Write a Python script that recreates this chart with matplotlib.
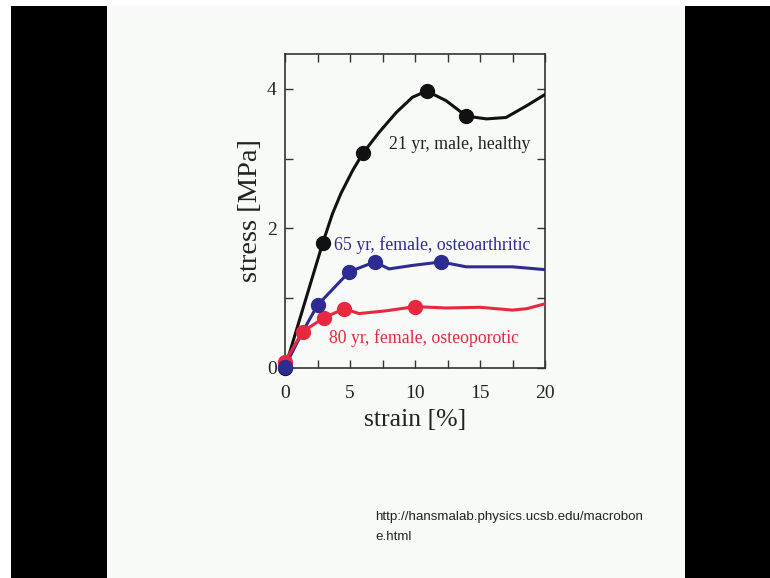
import matplotlib as mpl
mpl.use('Agg')
import matplotlib.pyplot as plt
from matplotlib.patches import Rectangle
from matplotlib.ticker import MultipleLocator

# strain [%] / stress [MPa]
healthy_x = [0, 2.9, 3.65, 4.3, 5.2, 6.0, 7.25, 8.55, 9.8, 10.9, 12.4, 13.95, 15.5, 17.0, 18.6, 20]
healthy_y = [0, 1.79, 2.21, 2.5, 2.83, 3.08, 3.38, 3.66, 3.88, 3.97, 3.83, 3.61, 3.57, 3.59, 3.76, 3.92]
healthy_mx = [0, 2.9, 6.0, 10.9, 13.95]
healthy_my = [0, 1.79, 3.08, 3.97, 3.61]

arthritic_x = [0, 1.3, 2.5, 4.95, 6.9, 8.0, 9.8, 12.0, 13.95, 17.5, 20]
arthritic_y = [0.02, 0.5, 0.9, 1.38, 1.52, 1.42, 1.47, 1.52, 1.45, 1.45, 1.41]
arthritic_mx = [0, 2.5, 4.95, 6.9, 12.0]
arthritic_my = [0.02, 0.9, 1.38, 1.52, 1.52]

porotic_x = [0, 1.35, 3.0, 4.55, 5.7, 7.8, 10.0, 12.4, 15.0, 17.5, 18.6, 20]
porotic_y = [0.09, 0.52, 0.72, 0.85, 0.78, 0.82, 0.88, 0.86, 0.87, 0.83, 0.85, 0.92]
porotic_mx = [0, 1.35, 3.0, 4.55, 10.0]
porotic_my = [0.09, 0.52, 0.72, 0.85, 0.88]

black = '#111111'
blue = '#2e2b93'
red = '#e8283e'
ink = '#222222'

fig = plt.figure(figsize=(7.7, 5.78), dpi=100)
fig.patch.set_facecolor('white')
W, H = 770.0, 578.0
# slide background and black side bars
for x0, x1, c in [(107, 685, '#f8faf8'), (11, 107, 'black'), (685, W, 'black')]:
    fig.patches.append(Rectangle((x0/W, 0), (x1-x0)/W, (H-6)/H, transform=fig.transFigure,
                                 facecolor=c, edgecolor='none', zorder=-10))

ax = fig.add_axes([285/W, 1-368/H, 260/W, 314/H])
ax.set_facecolor('#f8faf8')
serif = 'Liberation Serif'

ax.plot(healthy_x, healthy_y, color=black, lw=2.2, zorder=3)
ax.plot(healthy_mx, healthy_my, 'o', color=black, ms=10, zorder=4, clip_on=False)
ax.plot(arthritic_x, arthritic_y, color=blue, lw=2.2, zorder=3)
ax.plot(arthritic_mx, arthritic_my, 'o', color=blue, ms=10, zorder=5, clip_on=False)
ax.plot(porotic_x, porotic_y, color=red, lw=2.2, zorder=3)
ax.plot(porotic_mx, porotic_my, 'o', color=red, ms=10, zorder=4, clip_on=False)

ax.text(13.4, 3.21, '21 yr, male, healthy', color=ink, fontsize=12.8,
        family=serif, ha='center', va='center')
ax.text(11.3, 1.76, '65 yr, female, osteoarthritic', color=blue, fontsize=12.8,
        family=serif, ha='center', va='center')
ax.text(10.7, 0.43, '80 yr, female, osteoporotic', color=red, fontsize=12.8,
        family=serif, ha='center', va='center')

ax.set_xlim(0, 20)
ax.set_ylim(0, 4.5)
ax.xaxis.set_major_locator(MultipleLocator(5))
ax.xaxis.set_minor_locator(MultipleLocator(2.5))
ax.yaxis.set_major_locator(MultipleLocator(2))
ax.yaxis.set_minor_locator(MultipleLocator(1))
ax.tick_params(which='both', direction='in', top=True, right=True, length=6,
               width=1, color='#333333', labelsize=14)
ax.tick_params(axis='x', which='major', pad=12)
ax.tick_params(axis='y', which='major', pad=6)
for lab in ax.get_xticklabels() + ax.get_yticklabels():
    lab.set_family(serif)
    lab.set_color(ink)
for s in ax.spines.values():
    s.set_linewidth(1.2)
    s.set_color('#333333')

ax.set_xlabel('strain [%]', family=serif, fontsize=18.5, color=ink, labelpad=5)
ax.set_ylabel('stress [MPa]', family=serif, fontsize=20.5, color=ink, labelpad=3)

fig.text(375/W, 1-517/H, 'http://hansmalab.physics.ucsb.edu/macrobon',
         family='Liberation Sans', fontsize=9.6, color=ink, va='center')
fig.text(375/W, 1-537/H, 'e.html',
         family='Liberation Sans', fontsize=9.6, color=ink, va='center')

fig.savefig('out.png', dpi=100)
